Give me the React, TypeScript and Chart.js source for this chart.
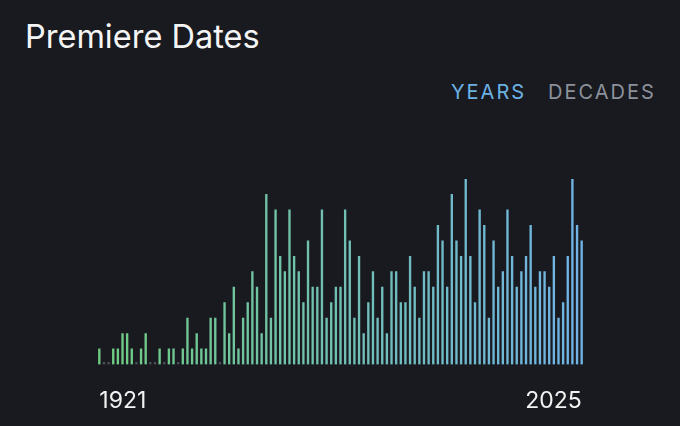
import React, { useEffect, useRef } from "react";
import { Chart, registerables } from "chart.js";

Chart.register(...registerables);

const firstYear = 1921;
const counts: number[] = [
  1, 0, 0, 1, 1, 2, 2, 1, 0, 1, 2, 0, 0, 1, 0, 1, 1, 0, 1, 3,
  1, 2, 1, 1, 3, 3, 0, 4, 2, 5, 1, 3, 4, 6, 5, 2, 11, 3, 10, 7,
  6, 10, 7, 6, 4, 8, 5, 5, 10, 3, 4, 5, 5, 10, 8, 3, 7, 2, 4, 6,
  3, 5, 2, 6, 6, 4, 4, 7, 5, 3, 6, 6, 5, 9, 8, 5, 11, 8, 7, 12,
  7, 4, 10, 9, 3, 8, 5, 6, 10, 7, 5, 6, 7, 9, 5, 6, 6, 5, 7, 3,
  4, 7, 12, 9, 8,
];
const years: string[] = counts.map((_, i) => String(firstYear + i));
const tickLabels: string[] = ["1921", "2025"];
const yMax = 12;

const BG = "#181a20";
const GREEN = "#70cc80";
const BLUE = "#70b4e6";
const ZERO = "#4a4f5a";

export default function App() {
  const ref = useRef<HTMLCanvasElement | null>(null);

  useEffect(() => {
    document.body.style.margin = "0";
    document.body.style.background = BG;
    const canvas = ref.current;
    if (!canvas) return;
    let grad: CanvasGradient | null = null;
    let gradKey = "";
    const chart = new Chart(canvas, {
      type: "bar",
      data: {
        labels: years,
        datasets: [
          {
            data: counts,
            barThickness: 1.7,
            minBarLength: 2,
            borderWidth: 0,
            backgroundColor: (ctx: any) => {
              const v = ctx.raw as number;
              if (v === 0) return ZERO;
              const ch = ctx.chart;
              const area = ch.chartArea;
              if (!area) return GREEN;
              const key = area.left + "-" + area.right;
              if (!grad || key !== gradKey) {
                grad = ch.ctx.createLinearGradient(area.left, 0, area.right, 0);
                grad.addColorStop(0, GREEN);
                grad.addColorStop(1, BLUE);
                gradKey = key;
              }
              return grad;
            },
          },
        ],
      },
      options: {
        animation: false,
        responsive: false,
        maintainAspectRatio: false,
        layout: { padding: { left: 97, right: 96, top: 179, bottom: 11 } },
        plugins: { legend: { display: false }, tooltip: { enabled: false } },
        scales: {
          x: {
            grid: { display: false, drawTicks: false },
            border: { display: false },
            ticks: {
              autoSkip: false,
              maxRotation: 0,
              minRotation: 0,
              align: "inner",
              padding: 23,
              color: "#f2f2f2",
              font: { family: "Inter, 'Noto Sans', sans-serif", size: 23 },
              callback: function (this: any, val: any) {
                const lab = this.getLabelForValue(val);
                return tickLabels.includes(lab) ? lab : "";
              },
            },
          },
          y: {
            display: false,
            min: 0,
            max: yMax,
          },
        },
      },
    });
    return () => chart.destroy();
  }, []);

  const toggle = {
    position: "absolute" as const,
    top: 82,
    fontFamily: "Inter, 'Noto Sans', sans-serif",
    fontSize: 20,
    lineHeight: 1,
    letterSpacing: 2,
    whiteSpace: "nowrap" as const,
  };

  return (
    <div style={{ position: "relative", width: 680, height: 426, background: BG, overflow: "hidden" }}>
      <div
        style={{
          position: "absolute",
          left: 25,
          top: 21,
          fontFamily: "Inter, 'Noto Sans', sans-serif",
          fontSize: 32.5,
          lineHeight: 1,
          color: "#f5f5f5",
          whiteSpace: "nowrap",
        }}
      >
        Premiere Dates
      </div>
      <div style={{ ...toggle, left: 451, color: "#6cb2e4" }}>YEARS</div>
      <div style={{ ...toggle, left: 548, color: "#8c919b" }}>DECADES</div>
      <canvas ref={ref} width={680} height={449} style={{ position: "absolute", left: 0, top: 0 }} />
    </div>
  );
}
